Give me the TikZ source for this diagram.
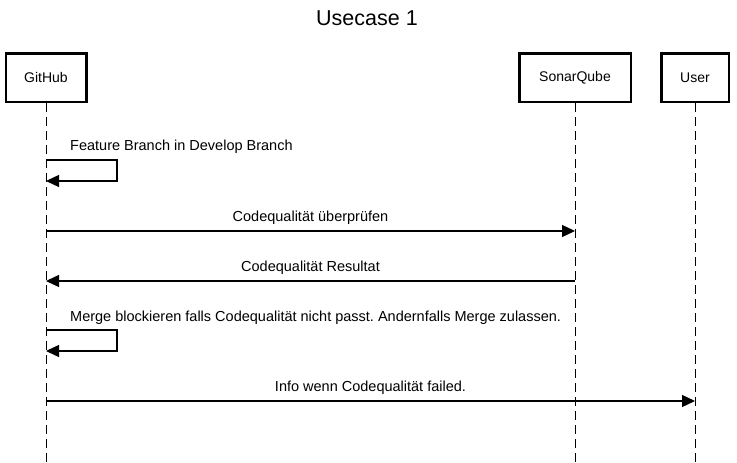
\documentclass[tikz,border=0pt]{standalone}
\usepackage{fontspec}
\setmainfont{Liberation Sans}
\usetikzlibrary{arrows.meta}
\frenchspacing
\begin{document}
\begin{tikzpicture}[x=1pt,y=-1pt,
  actor/.style={draw,line width=2.5pt,minimum height=48.5pt,inner sep=0pt,font=\fontsize{14}{16}\selectfont},
  life/.style={line width=1pt,dash pattern=on 9pt off 5pt},
  msg/.style={line width=1.3pt,-{Triangle[length=13pt,width=12pt]}},
  lbl/.style={inner sep=0pt,font=\fontsize{14.5}{17}\selectfont},
  titlestyle/.style={inner sep=0pt,font=\fontsize{21.5}{25}\selectfont}]
\useasboundingbox (0,0) rectangle (737,463);
\node[titlestyle] (title) at (367,18) {Usecase 1};
\node[actor,minimum width=80.5pt] (gh) at (46,77.5) {GitHub};
\node[actor,minimum width=111.5pt] (sq) at (575,77.5) {SonarQube};
\node[actor,minimum width=67.5pt] (us) at (695,77.5) {User};
\coordinate (ghend) at (46,463);
\coordinate (sqend) at (575,463);
\coordinate (usend) at (695,463);
\draw[life] (gh.south) -- (ghend);
\draw[life] (sq.south) -- (sqend);
\draw[life] (us.south) -- (usend);
% message 1: self loop
\coordinate (m1a) at (46,160);
\coordinate (m1b) at (46,181);
\draw[msg] (m1a) -- (117,160) |- (m1b);
\node[lbl,anchor=west] (l1) at (70,147) {Feature Branch in Develop Branch};
% message 2
\coordinate (m2a) at (46,231);
\coordinate (m2b) at (575,231);
\draw[msg] (m2a) -- (m2b);
\node[lbl] (l2) at (310.5,218) {Codequalität überprüfen};
% message 3
\coordinate (m3a) at (575,281);
\coordinate (m3b) at (46,281);
\draw[msg] (m3a) -- (m3b);
\node[lbl] (l3) at (310.5,268) {Codequalität Resultat};
% message 4: self loop
\coordinate (m4a) at (46,330);
\coordinate (m4b) at (46,351);
\draw[msg] (m4a) -- (117,330) |- (m4b);
\node[lbl,anchor=west] (l4) at (70,318) {Merge blockieren falls Codequalität nicht passt. Andernfalls Merge zulassen.};
% message 5
\coordinate (m5a) at (46,401);
\coordinate (m5b) at (695,401);
\draw[msg] (m5a) -- (m5b);
\node[lbl] (l5) at (370.5,388) {Info wenn Codequalität failed.};
\end{tikzpicture}
\end{document}
